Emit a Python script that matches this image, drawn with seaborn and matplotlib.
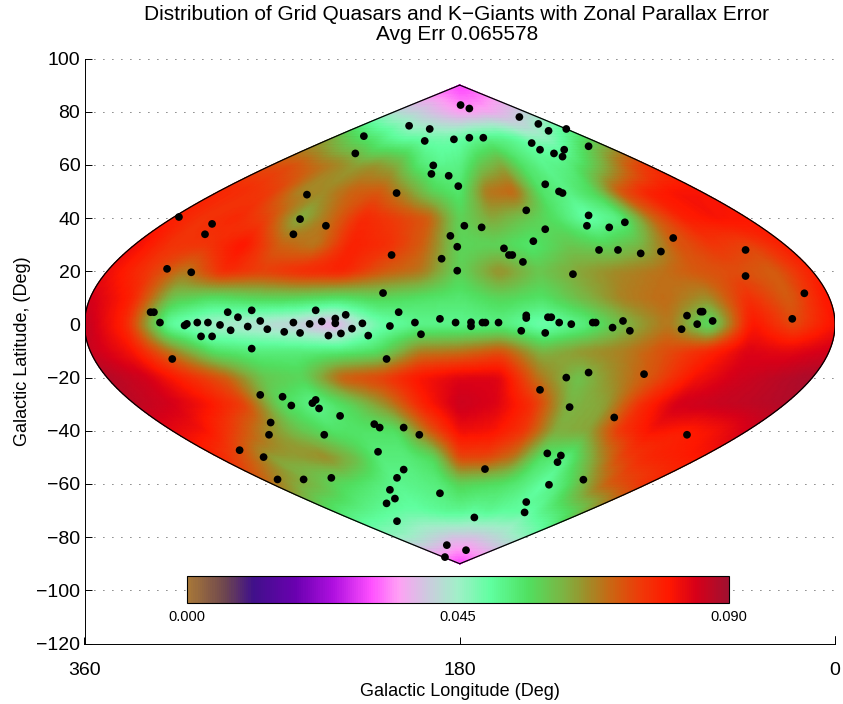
import numpy as np
import matplotlib
matplotlib.use("Agg")
import matplotlib.pyplot as plt
from matplotlib.colors import LinearSegmentedColormap
import seaborn as sns

# zonal parallax error, rows are latitude, columns are longitude 360 -> 0
err_lats = [90, 80, 70, 60, 50, 40, 30, 20, 10, 0, -10, -20, -30, -40, -50, -60, -70, -80, -90]
err_lons = [360, 340, 320, 300, 280, 260, 240, 220, 200, 180, 160, 140, 120, 100, 80, 60, 40, 20, 0]
err_grid = [
    [.030, .030, .030, .030, .030, .030, .030, .030, .030, .030, .030, .030, .030, .030, .030, .030, .030, .030, .030],
    [.042, .042, .041, .041, .040, .039, .038, .037, .036, .035, .035, .035, .036, .036, .037, .038, .039, .040, .041],
    [.064, .060, .057, .055, .052, .050, .050, .049, .049, .050, .052, .053, .053, .051, .047, .046, .050, .054, .058],
    [.073, .073, .070, .068, .065, .066, .063, .055, .052, .053, .060, .064, .056, .052, .053, .057, .064, .072, .077],
    [.078, .077, .075, .067, .067, .071, .072, .066, .058, .055, .069, .071, .056, .053, .058, .073, .079, .081, .081],
    [.079, .076, .078, .074, .062, .070, .078, .075, .072, .058, .064, .060, .056, .049, .053, .070, .079, .081, .080],
    [.082, .076, .076, .081, .071, .068, .079, .077, .071, .058, .058, .055, .060, .058, .062, .072, .076, .074, .079],
    [.082, .076, .068, .078, .075, .078, .079, .072, .069, .058, .067, .060, .064, .067, .069, .072, .073, .071, .079],
    [.085, .079, .060, .056, .058, .058, .056, .058, .056, .055, .058, .056, .062, .068, .070, .066, .077, .071, .081],
    [.087, .078, .050, .044, .042, .040, .035, .048, .052, .052, .053, .048, .053, .062, .069, .055, .081, .073, .081],
    [.086, .081, .068, .056, .054, .054, .054, .056, .068, .069, .073, .062, .066, .068, .073, .078, .084, .083, .085],
    [.088, .085, .078, .072, .060, .058, .072, .075, .081, .084, .084, .069, .060, .067, .073, .081, .085, .087, .089],
    [.087, .085, .081, .075, .058, .052, .058, .067, .079, .086, .084, .077, .062, .064, .077, .085, .086, .087, .088],
    [.083, .081, .074, .066, .060, .056, .056, .056, .071, .082, .081, .076, .063, .064, .076, .081, .079, .081, .085],
    [.078, .072, .064, .065, .067, .062, .054, .054, .057, .074, .074, .069, .056, .053, .064, .074, .078, .079, .080],
    [.069, .064, .062, .058, .056, .054, .052, .053, .054, .058, .057, .056, .054, .050, .055, .063, .071, .074, .077],
    [.056, .054, .053, .052, .051, .050, .050, .051, .052, .052, .051, .052, .051, .051, .050, .053, .055, .058, .064],
    [.046, .045, .045, .044, .043, .042, .041, .040, .039, .039, .039, .039, .040, .041, .042, .043, .044, .045, .046],
    [.030, .030, .030, .030, .030, .030, .030, .030, .030, .030, .030, .030, .030, .030, .030, .030, .030, .030, .030],
]

# grid quasars and k-giants
star_lon = [314.7, 298.8, 302.2, 320.4, 308.8, 253.3, 256.6, 259.8, 244.2, 210.3, 212.7, 226.0, 230.1, 204.3, 194.4,
            196.8, 182.8, 192.7, 193.6, 185.3, 180.7, 184.5, 181.2, 188.7, 181.2, 216.8, 209.3, 328.3, 326.7, 323.8,
            312.0, 310.9, 305.9, 300.8, 295.0, 289.9, 281.7, 291.3, 286.4, 279.8, 275.7, 272.3, 264.2, 259.8, 256.6,
            252.0, 246.2, 239.7, 239.7, 234.7, 249.1, 231.7, 226.7, 223.9, 237.0, 243.0, 213.5, 201.5, 198.6, 189.5,
            182.0, 304.1, 298.8,
            279.8, 317.9, 215.1, 275.7, 265.0, 260.8, 250.7, 249.1, 247.5, 237.4, 270.7, 271.5, 245.0, 221.0, 218.4,
            206.9, 199.4, 285.6, 274.1, 219.2, 206.9, 210.1, 267.4, 254.9, 241.6, 213.5, 211.1, 215.1, 189.5, 210.1,
            186.2, 187.1,
            179.6, 175.4, 151.4, 142.3, 137.4, 128.9, 118.2, 175.4, 168.7, 145.5, 141.5, 134.8, 129.9, 130.7, 139.0,
            132.4, 130.7, 148.1, 118.2, 119.0, 108.3, 100.8, 77.6, 177.8, 169.5, 139.0, 144.7, 158.8, 156.4, 154.8,
            149.7, 113.2, 104.1, 93.2, 83.5, 42.9, 42.9, 125.7, 14.7, 148.1, 148.1, 137.7, 136.1, 132.3, 126.5, 150.5,
            139.0, 116.2, 114.8, 106.7, 101.7, 98.4, 71.0, 64.5, 63.5, 66.1, 58.7, 73.6, 20.5, 174.6, 174.6, 169.1,
            167.7, 161.4,
            128.9, 118.2, 91.6, 141.5, 127.3, 105.9, 71.0, 138.0, 131.5, 133.1, 167.9, 120.7, 137.2, 148.1, 148.9,
            173.0, 177.0]
star_lat = [40.4, 37.8, 33.9, 20.9, 19.6, 48.8, 39.6, 33.9, 37.1, 49.4, 26.1, 70.8, 64.3, 74.7, 73.5,
            69.0, 69.6, 59.8, 56.6, 55.9, 52.0, 33.3, 29.2, 24.7, 20.2, 11.8, 4.6, 4.6, 4.6, 0.7,
            -0.4, 0.2, 0.7, 0.7, -0.2, -2.2, -0.8, 4.6, 2.7, 5.3, 1.3, -1.8, -2.8, 0.7, -3.2,
            0.2, 1.1, 2.2, 0.4, 3.6, 5.3, -1.6, 0.4, -4.2, -3.4, -4.2, -0.6, 0.7, -3.7, 2.1,
            0.7, -4.5, -4.5,
            -9.1, -13.0, -13.0, -26.5, -27.2, -30.5, -29.6, -28.4, -31.6, -34.4, -36.9, -41.5, -41.5, -37.5, -38.8,
            -38.8, -41.5, -47.3, -49.9, -47.9, -54.6, -57.7, -58.3, -58.3, -57.7, -62.2, -65.5, -67.3, -63.5, -74.0,
            -83.0, -87.5,
            82.5, 81.2, 78.0, 75.4, 72.8, 73.5, 67.0, 70.2, 70.2, 68.2, 65.7, 64.3, 65.7, 63.1, 52.7,
            50.0, 49.4, 42.9, 41.0, 37.1, 36.5, 38.4, 32.5, 37.1, 36.5, 35.8, 31.3, 28.6, 26.1, 26.1,
            23.5, 28.0, 28.0, 26.7, 27.4, 28.0, 18.2, 18.9, 11.7, 3.4, 2.4, 2.7, 2.7, 0.7, 0.1, -2.4,
            -3.2, 0.7, 0.7, -1.2, 1.3, -2.4, 3.3, 4.8, 4.8, 0.1, 1.3, -1.8, 2.1, 0.8, -0.7, 0.7,
            0.7, 0.7,
            -20.0, -18.1, -18.7, -24.6, -31.1, -35.0, -41.5, -48.5, -49.3, -51.8, -54.4, -58.4, -60.3, -66.8, -70.7,
            -72.6, -84.9]

cbar_stops = [0.0, 0.07, 0.12, 0.2, 0.27, 0.34, 0.39, 0.44, 0.5, 0.56, 0.63, 0.7, 0.74, 0.79, 0.84, 0.89, 0.94, 1.0]
cbar_colors = ["#a87838", "#6c4550", "#40108a", "#6a00b0", "#b010e0", "#ff50ff", "#ffa0f5", "#d0c8e0", "#a0f0c8",
               "#60ffa0", "#50e060", "#80b040", "#a08c28", "#d06010", "#f03808", "#ff1800", "#d80018", "#a01030"]
err_cmap = LinearSegmentedColormap.from_list("err", list(zip(cbar_stops, cbar_colors)), N=256)

sns.set_style("white")
plt.rcParams['font.family'] = ['Liberation Sans', 'DejaVu Sans']


def refine(grid):
    # upsample the coarse table so the map has no visible cells
    lat_in = np.array(err_lats)[::-1]
    lon_in = np.array(err_lons)[::-1]
    g = np.array(grid)[::-1, ::-1]
    lat_out = np.arange(-90, 90.5, 1.0)
    lon_out = np.arange(0, 360.5, 1.5)
    z = np.array([np.interp(lon_out, lon_in, row) for row in g])
    z = np.array([np.interp(lat_out, lat_in, col) for col in z.T]).T
    for i in range(6):
        p = np.pad(z, 1, mode='edge')
        z = (p[1:-1, 1:-1] * 2 + p[:-2, 1:-1] + p[2:, 1:-1] + p[1:-1, :-2] + p[1:-1, 2:]) / 6
    return lat_out, lon_out, z


W, H = 843, 704
fig = plt.figure(figsize=(W / 100, H / 100), dpi=100)
ax = fig.add_axes([84.5 / W, 1 - 643.5 / H, 750.5 / W, 585 / H])

lat_f, lon_f, z = refine(err_grid)
LON, LAT = np.meshgrid(lon_f, lat_f)
X = 180 + (LON - 180) * np.cos(np.radians(LAT))
mesh = ax.pcolormesh(X, LAT, z, cmap=err_cmap, vmin=0, vmax=0.09, shading='gouraud', zorder=2)

# outline of the sinusoidal map
edge_lat = np.linspace(-90, 90, 181)
edge_cos = np.cos(np.radians(edge_lat))
ax.plot(180 + 180 * edge_cos, edge_lat, color='k', lw=0.9, zorder=3)
ax.plot(180 - 180 * edge_cos, edge_lat, color='k', lw=0.9, zorder=3)

sns.scatterplot(x=star_lon, y=star_lat, color='k', s=31, edgecolor='none', ax=ax, zorder=5, legend=False)

ax.set_xlim(360, 0)
ax.set_ylim(-120, 100)
ax.set_xticks([360, 180, 0])
ax.set_yticks(np.arange(-120, 101, 20))
ax.tick_params(axis='y', direction='in', length=5, width=0.7, labelsize=14, color='k', labelcolor='k',
               left=True, pad=3)
ax.tick_params(axis='x', direction='in', length=5, width=0.7, labelsize=14, color='k', labelcolor='k',
               bottom=True, pad=13)
ax.set_axisbelow(True)
ax.yaxis.grid(True, color='k', lw=0.6, linestyle=(0, (1, 9.8)))
ax.xaxis.grid(False)
sns.despine(ax=ax)
ax.spines['left'].set_color('k')
ax.spines['bottom'].set_color('k')
ax.spines['left'].set_linewidth(0.7)
ax.spines['bottom'].set_linewidth(0.7)
ax.plot([1, 1], [0, 0.012], transform=ax.transAxes, color='k', lw=0.7, clip_on=False)

ax.set_xlabel("Galactic Longitude (Deg)", fontsize=13, color='k', labelpad=3)
ax.set_ylabel("Galactic Latitude, (Deg)", fontsize=13, color='k', labelpad=4)
ax.set_title("Distribution of Grid Quasars and K\u2212Giants with Zonal Parallax Error\nAvg Err 0.065578",
             fontsize=15, color='k', pad=13, linespacing=1.1, x=0.496)

cax = fig.add_axes([187 / W, 1 - 603 / H, 542 / W, 27 / H])
cb = fig.colorbar(mesh, cax=cax, orientation='horizontal', ticks=[0, 0.045, 0.09], format='%.3f')
cb.ax.tick_params(length=0, labelsize=10.5, pad=5, labelcolor='k')
cb.outline.set_edgecolor('k')
cb.outline.set_linewidth(0.8)

fig.savefig("out.png", dpi=100)
